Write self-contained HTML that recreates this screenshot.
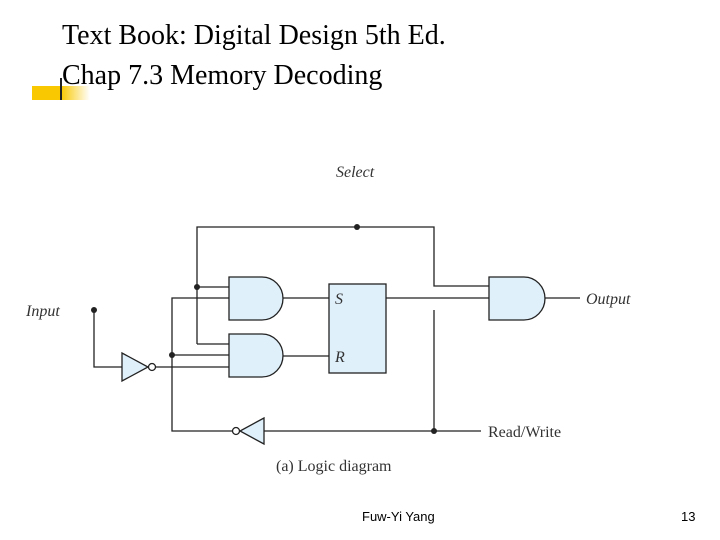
<!DOCTYPE html>
<html><head><style>
body{margin:0;width:720px;height:540px;background:#fff;overflow:hidden;position:relative;font-family:"Liberation Serif",serif}
.t{position:absolute;font-size:28px;color:#000;left:62px;white-space:nowrap}
</style></head><body>
<div class="t" style="top:20px">Text Book: Digital Design 5th Ed.</div>
<div class="t" style="top:60px">Chap 7.3 Memory Decoding</div>
<div style="position:absolute;left:32px;top:86px;width:58px;height:14px;background:linear-gradient(90deg,#f9c800 0,#f9c800 50%,rgba(249,200,0,0) 100%)"></div>
<div style="position:absolute;left:60px;top:78px;width:2px;height:22px;background:#222"></div>
<svg width="720" height="540" style="position:absolute;left:0;top:0" font-family="Liberation Serif,serif">
<g stroke="#222" stroke-width="1.3" fill="none">
<polyline points="197,344 197,227 434,227 434,286 489,286"/>
<polyline points="434,310 434,431"/>
<line x1="197" y1="287" x2="229" y2="287"/>
<polyline points="229,298 172,298 172,431 234,431"/>
<line x1="197" y1="344" x2="229" y2="344"/>
<line x1="172" y1="355" x2="229" y2="355"/>
<polyline points="94,310 94,367 122,367"/>
<line x1="156" y1="367" x2="229" y2="367"/>
<line x1="283" y1="298" x2="330" y2="298"/>
<line x1="283" y1="356" x2="330" y2="356"/>
<line x1="386" y1="298" x2="489" y2="298"/>
<line x1="545" y1="298" x2="580" y2="298"/>
<line x1="264" y1="431" x2="481" y2="431"/>
</g>
<g stroke="#222" stroke-width="1.3" fill="#dff0fb">
<path d="M229,277 H262 A21,21.5 0 0 1 262,320 H229 Z"/>
<path d="M229,334 H262 A21,21.5 0 0 1 262,377 H229 Z"/>
<path d="M489,277 H524 A21,21.5 0 0 1 524,320 H489 Z"/>
<rect x="329" y="284" width="57" height="89"/>
<polygon points="122,353 122,381 148,367"/>
<circle cx="152" cy="367" r="3.5" fill="#fff"/>
<polygon points="264,418 264,444 240,431"/>
<circle cx="236" cy="431" r="3.5" fill="#fff"/>
</g>
<g fill="#222">
<circle cx="357" cy="227" r="3"/><circle cx="197" cy="287" r="3"/>
<circle cx="172" cy="355" r="3"/><circle cx="94" cy="310" r="3"/>
<circle cx="434" cy="431" r="3"/>
</g>
<g fill="#333" font-size="16">
<text x="336" y="177" font-style="italic">Select</text>
<text x="26" y="316" font-style="italic">Input</text>
<text x="586" y="304" font-style="italic">Output</text>
<text x="335" y="304" font-style="italic">S</text>
<text x="335" y="362" font-style="italic">R</text>
<text x="488" y="437">Read/Write</text>
<text x="276" y="471">(a) Logic diagram</text>
</g>
<g font-family="Liberation Sans,sans-serif" font-size="13" fill="#000">
<text x="362" y="521">Fuw-Yi Yang</text>
<text x="681" y="521">13</text>
</g>
</svg>
</body></html>
